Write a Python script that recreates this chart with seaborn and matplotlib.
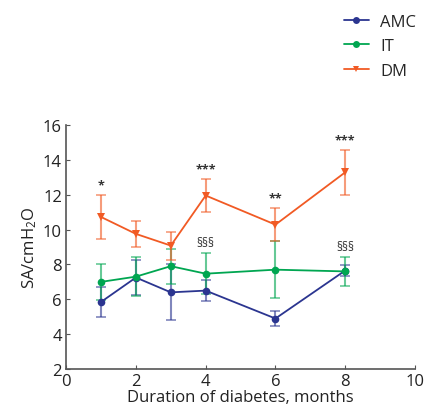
import numpy as np
import pandas as pd
import matplotlib
matplotlib.use('Agg')
import matplotlib.pyplot as plt
import seaborn as sns

sns.set_theme(style='ticks')
plt.rcParams['font.family'] = ['Open Sans', 'DejaVu Sans']
plt.rcParams['mathtext.default'] = 'regular'

# data
months = [1, 2, 3, 4, 6, 8]
amc_mean = [5.85, 7.25, 6.4, 6.5, 4.9, 7.65]
amc_err = [0.88, 1.0, 1.6, 0.6, 0.44, 0.3]
it_mean = [7.0, 7.3, 7.9, 7.47, 7.7, 7.6]
it_err = [1.04, 1.1, 1.0, 1.17, 1.65, 0.82]
dm_mean = [10.72, 9.75, 9.08, 11.95, 10.28, 13.28]
dm_err = [1.27, 0.75, 0.8, 0.95, 0.95, 1.3]

star_x = [1, 4, 6, 8]
star_txt = ['*', '***', '**', '***']
sect_x = [4, 8]
sect_txt = ['§§§', '§§§']

groups = ['AMC', 'IT', 'DM']
colors = {'AMC': '#2B3590', 'IT': '#00A651', 'DM': '#F15A24'}
markers = {'AMC': 'o', 'IT': 'o', 'DM': 'v'}
means = {'AMC': amc_mean, 'IT': it_mean, 'DM': dm_mean}
errs = {'AMC': amc_err, 'IT': it_err, 'DM': dm_err}

df = pd.concat([pd.DataFrame({'month': months, 'sa': means[g], 'err': errs[g], 'group': g})
                for g in groups], ignore_index=True)

fig = plt.figure(figsize=(4.41, 4.14), dpi=100)
ax = fig.add_axes([0.15, 0.106, 0.791, 0.59])

for g in groups:
    sub = df[df['group'] == g]
    ax.errorbar(sub['month'], sub['sa'], yerr=sub['err'], fmt='none',
                ecolor=colors[g], alpha=0.6, elinewidth=1.5, capsize=3.5, capthick=1.2)
sns.lineplot(data=df, x='month', y='sa', hue='group', style='group',
             palette=colors, markers=markers, dashes=False, markersize=5.5,
             markeredgewidth=0, linewidth=1.3, ax=ax, legend=False)

# significance marks
for x, t in zip(star_x, star_txt):
    y = df[(df['group'] == 'DM') & (df['month'] == x)]
    top = float(y['sa'].iloc[0] + y['err'].iloc[0])
    ax.text(x, top + 0.2, t, ha='center', va='bottom', fontsize=9,
            fontweight='bold', color='#333333')
for x, t in zip(sect_x, sect_txt):
    y = df[(df['group'] == 'IT') & (df['month'] == x)]
    top = float(y['sa'].iloc[0] + y['err'].iloc[0])
    ax.text(x, top + 0.25, t, ha='center', va='bottom', fontsize=8.5,
            color='#333333')

ax.set_xlim(0, 10)
ax.set_ylim(2, 16)
ax.set_xticks([0, 2, 4, 6, 8, 10])
ax.set_yticks([2, 4, 6, 8, 10, 12, 14, 16])
ax.tick_params(direction='in', length=3, width=0.8, colors='#555555',
               labelcolor='#222222', labelsize=12, pad=3)
for s in ['top', 'right']:
    ax.spines[s].set_visible(False)
for s in ['left', 'bottom']:
    ax.spines[s].set_color('#555555')
    ax.spines[s].set_linewidth(1.2)
ax.set_xlabel('Duration of diabetes, months', fontsize=12, color='#222222', labelpad=0)
ax.set_ylabel('SA/cmH$_2$O', fontsize=12, color='#222222', labelpad=3)

handles = [plt.Line2D([], [], color=colors[g], marker=markers[g], markersize=5,
                      markeredgewidth=0, linewidth=1.3) for g in groups]
fig.legend(handles, groups, loc='upper left', bbox_to_anchor=(0.745, 1.0),
           frameon=False, fontsize=12, handlelength=1.5, labelspacing=0.5,
           handletextpad=0.7)

fig.savefig('out.png', dpi=100)
